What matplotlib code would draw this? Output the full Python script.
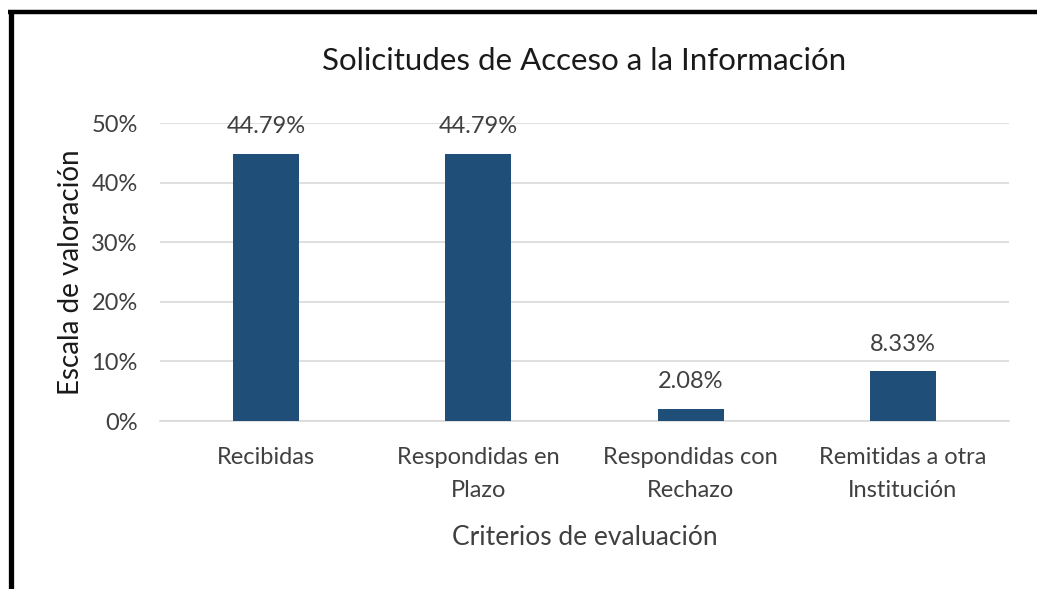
import numpy as np
import matplotlib.pyplot as plt
from matplotlib.lines import Line2D
from matplotlib.ticker import PercentFormatter

categorias = ["Recibidas", "Respondidas en\nPlazo", "Respondidas con\nRechazo",
              "Remitidas a otra\nInstitución"]
valores = [0.4479, 0.4479, 0.0208, 0.0833]
etiquetas = ["44.79%", "44.79%", "2.08%", "8.33%"]
yticks = [0, 0.1, 0.2, 0.3, 0.4, 0.5]

plt.rcParams['font.family'] = ['Lato', 'DejaVu Sans']
gris = '#404040'

fig = plt.figure(figsize=(10.37, 5.89), dpi=100)
ax = fig.add_axes([160/1037, 1-421/589, 849/1037, 298/589])

x = np.arange(len(categorias))
ax.bar(x, valores, width=0.31, color='#1F4E79', zorder=3)
for xi, v, t in zip(x, valores, etiquetas):
    ax.annotate(t, (xi, v), xytext=(0, 12), textcoords='offset points',
                ha='center', va='bottom', fontsize=17, color=gris)

ax.set_xlim(-0.5, 3.5)
ax.set_ylim(0, 0.5)
ax.set_yticks(yticks)
ax.yaxis.set_major_formatter(PercentFormatter(1.0, decimals=0))
ax.set_xticks(x)
ax.set_xticklabels(categorias, fontsize=17, color=gris, linespacing=1.7)
ax.tick_params(axis='y', labelsize=17, labelcolor=gris, length=0, pad=16)
ax.tick_params(axis='x', length=0, pad=19)
ax.grid(axis='y', color='#d9d9d9', linewidth=1.2, zorder=0)
for s in ['top', 'right', 'left']:
    ax.spines[s].set_visible(False)
ax.spines['bottom'].set_color('#d9d9d9')
ax.spines['bottom'].set_linewidth(1.2)

ax.set_title("Solicitudes de Acceso a la Información", fontsize=22.5,
             color='#1a1a1a', pad=38)
ax.set_ylabel("Escala de valoración", fontsize=20, color='#1a1a1a', labelpad=5)
ax.set_xlabel("Criterios de evaluación", fontsize=19, color=gris, labelpad=17)

# marco negro (izquierda y arriba)
fig.add_artist(Line2D([10.5/1037, 10.5/1037], [0, 1-10/589], color='black',
                      linewidth=3.8, transform=fig.transFigure, solid_capstyle='butt'))
fig.add_artist(Line2D([8/1037, 1], [1-12/589, 1-12/589], color='black',
                      linewidth=3.2, transform=fig.transFigure, solid_capstyle='butt'))

fig.savefig('out.png', dpi=100)
